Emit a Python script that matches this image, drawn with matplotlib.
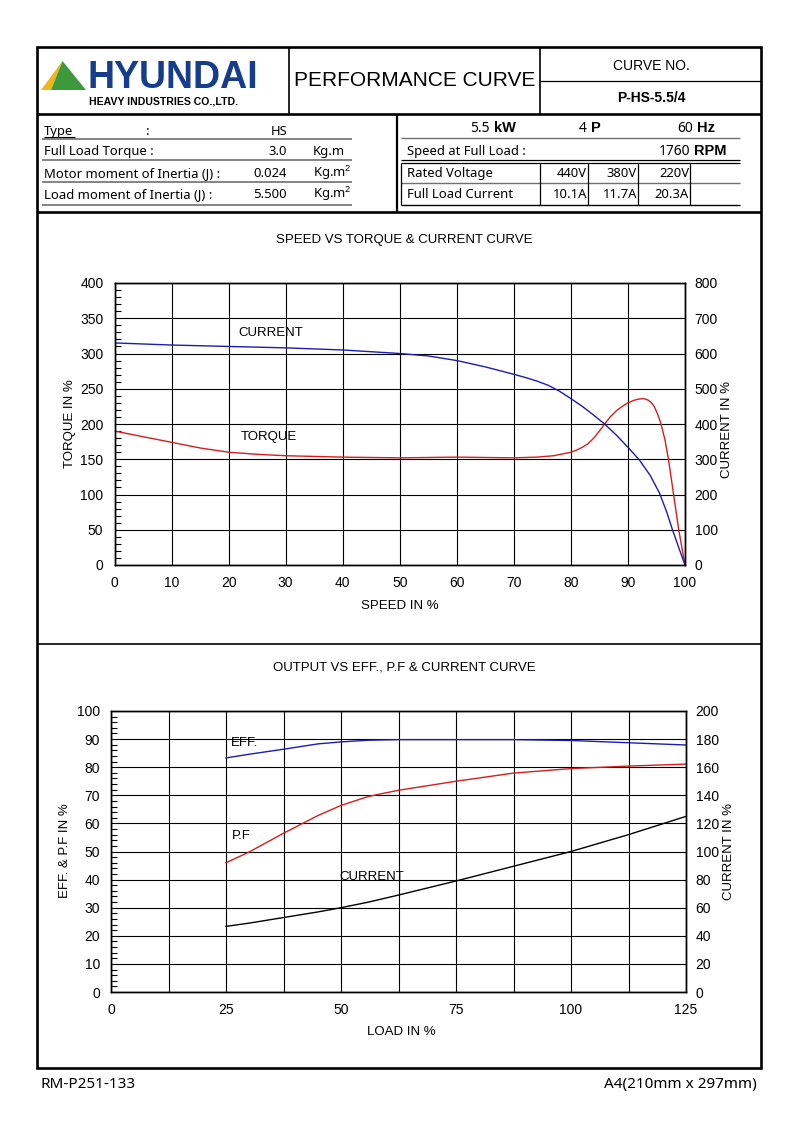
"""Hyundai motor performance curve sheet (P-HS-5.5/4) redrawn with matplotlib."""

import matplotlib
matplotlib.use("Agg")
import matplotlib.pyplot as plt
from matplotlib.patches import Polygon, Rectangle
from matplotlib.ticker import MultipleLocator

plt.rcParams['font.family'] = ['Liberation Sans', 'DejaVu Sans']
plt.rcParams['mathtext.fontset'] = 'custom'
plt.rcParams['mathtext.rm'] = 'Liberation Sans'

# --- data --------------------------------------------------------------
speed_torque = [0, 5, 10, 15, 20, 25, 30, 35, 40, 45, 50, 55, 60, 65, 70, 74, 77,
                80, 81, 82, 83, 84, 85, 86, 87, 88, 89, 90, 91, 92, 92.8, 93.5,
                94, 94.6, 95.2, 95.8, 96.5, 97.1, 98, 98.9, 100]
torque = [190, 182, 174, 166, 160, 157, 155, 154, 153, 152.5, 152, 152.5, 153,
          152.5, 152, 153, 155, 160, 163, 167, 172, 180, 190, 201, 211, 219, 225,
          230, 233.5, 235.5, 236, 234, 231, 225, 214, 200, 177, 150, 100, 50, 0]

speed_current = [0, 10, 20, 30, 40, 45, 50, 55, 60, 65, 70, 72, 74, 76, 78, 80,
                 82, 84, 85.9, 88, 90, 92, 93.9, 95.5, 96.8, 97.8, 99, 100]
current_speed = [630, 624, 620, 616, 610, 605, 600, 593, 580, 562, 541, 532, 522,
                 510, 493, 472, 450, 425, 400, 368, 334, 298, 254, 205, 150, 100,
                 45, 0]

load = [25, 30, 37.5, 45, 50, 56, 62.5, 75, 87.5, 100, 112.5, 125]
eff = [83.3, 84.6, 86.4, 88.3, 89.0, 89.6, 89.8, 89.8, 89.8, 89.5, 88.7, 87.9]
pf = [46, 49.8, 56.5, 62.8, 66.4, 69.6, 71.8, 75, 77.9, 79.5, 80.4, 81.1]
current_load = [46.7, 49, 53, 57, 60, 64, 69, 79, 89.5, 100, 112, 125]

W, H = 793, 1121
BLUE = '#1c1cb4'
RED = '#d41e1e'
TABLE_FONT = ['Noto Sans', 'DejaVu Sans']

fig = plt.figure(figsize=(W / 100, H / 100), dpi=100)
bg = fig.add_axes([0, 0, 1, 1])
bg.set_xlim(0, W)
bg.set_ylim(H, 0)
bg.axis('off')


def line(x0, y0, x1, y1, lw=1.0, c='black'):
    bg.plot([x0, x1], [y0, y1], color=c, lw=lw, solid_capstyle='butt')


def txt(x, y, s, size=9, ha='left', va='center', **kw):
    bg.text(x, y, s, fontsize=size, ha=ha, va=va, **kw)


def ttxt(x, y, s, size=9.4, ha='left', **kw):
    # spec-table text, set in a wider face like the original sheet
    bg.text(x, y, s, fontsize=size, ha=ha, va='baseline', family=TABLE_FONT, **kw)


def px_axes(x0, y0, x1, y1):
    return fig.add_axes([x0 / W, 1 - y1 / H, (x1 - x0) / W, (y1 - y0) / H])


# --- frame --------------------------------------------------------------
bg.add_patch(Rectangle((37, 47), 724, 1021, fill=False, lw=1.9, ec='black'))
line(37, 114, 761, 114, lw=1.9)
line(289, 47, 289, 114, lw=1.2)
line(540, 47, 540, 114, lw=1.2)
line(540, 81, 761, 81, lw=0.9)
line(397, 114, 397, 212, lw=1.6)
line(37, 212, 761, 212, lw=1.9)
line(37, 644, 761, 644, lw=1.2)

# logo
bg.add_patch(Polygon([(41, 90), (51, 90), (62.5, 61)], closed=True, fc='#f0b41e', ec='none'))
bg.add_patch(Polygon([(51, 90), (86, 90), (62.5, 61)], closed=True, fc='#3c9a3c', ec='none'))
txt(87, 88.5, 'HYUNDAI', size=27, va='baseline', weight='bold', color='#163c8c')
txt(89, 104.5, 'HEAVY INDUSTRIES CO.,LTD.', size=7.6, va='baseline', weight='bold')

txt(415, 81, 'PERFORMANCE CURVE', size=15, ha='center')
txt(651, 66, 'CURVE NO.', size=10, ha='center')
txt(651, 98, 'P-HS-5.5/4', size=10, ha='center', weight='bold')

# --- spec tables --------------------------------------------------------
rows_y = [135, 155, 177, 198]
for y in [138.5, 160, 182, 204.5]:
    line(42, y, 352, y, lw=1.2, c='#707070')
ttxt(44, rows_y[0], 'Type')
line(44, 137, 75, 137, lw=0.8)
ttxt(146, rows_y[0], ':')
ttxt(287, rows_y[0], 'HS', ha='right')
ttxt(44, rows_y[1], 'Full Load Torque :')
ttxt(287, rows_y[1], '3.0', ha='right')
ttxt(313, rows_y[1], 'Kg.m')
ttxt(44, rows_y[2], 'Motor moment of Inertia (J) :')
ttxt(287, rows_y[2], '0.024', ha='right')
ttxt(313, rows_y[2], 'Kg.m$^{2}$')
ttxt(44, rows_y[3], 'Load moment of Inertia (J) :')
ttxt(287, rows_y[3], '5.500', ha='right')
ttxt(313, rows_y[3], 'Kg.m$^{2}$')

ttxt(490, 132, '5.5', ha='right', size=10)
txt(494, 132, 'kW', size=10.5, va='baseline', weight='bold')
ttxt(587, 132, '4', ha='right', size=10)
txt(591, 132, 'P', size=10.5, va='baseline', weight='bold')
ttxt(693, 132, '60', ha='right', size=10)
txt(697, 132, 'Hz', size=10.5, va='baseline', weight='bold')
line(401, 138, 740, 138, lw=1.0, c='#707070')
ttxt(407, 155, 'Speed at Full Load :')
ttxt(690, 155, '1760', ha='right', size=10)
txt(694, 155, 'RPM', size=10.5, va='baseline', weight='bold')
line(401, 160, 740, 160, lw=0.9)
line(401, 163, 740, 163, lw=0.9)
line(401, 183, 740, 183, lw=1.0, c='#707070')
line(401, 205, 740, 205, lw=1.0)
line(401, 163, 401, 205, lw=0.9)
for x in [540, 588, 638, 690]:
    line(x, 163, x, 205, lw=0.9)
ttxt(407, 177, 'Rated Voltage')
ttxt(407, 198, 'Full Load Current')
for x, v, a in zip([587, 637, 689], ['440V', '380V', '220V'], ['10.1A', '11.7A', '20.3A']):
    ttxt(x, 177, v, ha='right')
    ttxt(x, 198, a, ha='right')


# --- chart helper -------------------------------------------------------
def style(ax, axr, xmaj, ymaj, ymin):
    ax.set_facecolor('none')
    ax.xaxis.set_major_locator(MultipleLocator(xmaj))
    ax.yaxis.set_major_locator(MultipleLocator(ymaj))
    ax.yaxis.set_minor_locator(MultipleLocator(ymin))
    ax.grid(True, which='major', color='black', lw=0.8)
    ax.tick_params(which='major', length=0, labelsize=10, pad=8)
    ax.tick_params(axis='y', which='minor', direction='in', length=4, width=0.8)
    ax.tick_params(axis='x', which='minor', length=0)
    axr.tick_params(length=0, labelsize=10, pad=7)
    for a in (ax, axr):
        for sp in a.spines.values():
            sp.set_linewidth(1.0)


# top chart: speed vs torque & current
txt(404, 240, 'SPEED VS TORQUE & CURRENT CURVE', size=9.5, ha='center')
ax1 = px_axes(114.5, 283, 685, 565)
ax1.set_xlim(0, 100)
ax1.set_ylim(0, 400)
ax1r = ax1.twinx()
ax1r.set_ylim(0, 800)
ax1r.yaxis.set_major_locator(MultipleLocator(100))
style(ax1, ax1r, 10, 50, 10)
ax1.plot(speed_torque, torque, color=RED, lw=1.0)
ax1r.plot(speed_current, current_speed, color=BLUE, lw=1.0)
txt(238, 333, 'CURRENT', size=9.5)
txt(241, 437, 'TORQUE', size=9.5)
txt(70, 424, 'TORQUE IN %', size=9.5, ha='center', rotation=90)
txt(727, 430, 'CURRENT IN %', size=9.5, ha='center', rotation=90)
txt(400, 606, 'SPEED IN %', size=9.5, ha='center')

# bottom chart: output vs eff, p.f & current
txt(404, 668, 'OUTPUT VS EFF., P.F & CURRENT CURVE', size=9.5, ha='center')
ax2 = px_axes(111, 711, 686, 992)
ax2.set_xlim(0, 125)
ax2.set_ylim(0, 100)
ax2r = ax2.twinx()
ax2r.set_ylim(0, 200)
ax2r.yaxis.set_major_locator(MultipleLocator(20))
style(ax2, ax2r, 12.5, 10, 2)
ax2.set_xticks([0, 12.5, 25, 37.5, 50, 62.5, 75, 87.5, 100, 112.5, 125])
ax2.set_xticklabels(['0', '', '25', '', '50', '', '75', '', '100', '', '125'])
ax2.plot(load, eff, color=BLUE, lw=1.0)
ax2.plot(load, pf, color=RED, lw=1.0)
ax2r.plot(load, current_load, color='black', lw=1.0)
txt(231, 743, 'EFF.', size=9.5)
txt(232, 836, 'P.F', size=9.5)
txt(339, 877, 'CURRENT', size=9.5)
txt(65, 851, 'EFF. & P.F IN %', size=9.5, ha='center', rotation=90)
txt(729, 851, 'CURRENT IN %', size=9.5, ha='center', rotation=90)
txt(401, 1032, 'LOAD IN %', size=9.5, ha='center')

# footer
bg.text(40, 1088, 'RM-P251-133', fontsize=11, va='baseline', family=TABLE_FONT)
bg.text(757, 1088, 'A4(210mm x 297mm)', fontsize=11, ha='right', va='baseline',
        family=TABLE_FONT)

fig.savefig('out.png', dpi=100)
plt.close(fig)
